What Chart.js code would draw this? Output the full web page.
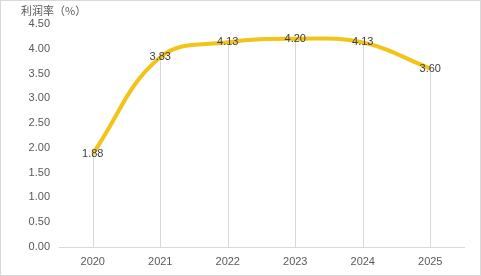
<!DOCTYPE html>
<html><head><meta charset="utf-8">
<script src="https://cdn.jsdelivr.net/npm/chart.js@4"></script>
<style>html,body{margin:0;padding:0;background:#fff;}#wrap{width:481px;height:276px;position:relative;}</style>
</head><body><div id="wrap"><canvas id="c" width="481" height="276"></canvas></div>
<script>
const categories = ['2020','2021','2022','2023','2024','2025'];
const profitRate = [1.88, 3.83, 4.13, 4.20, 4.13, 3.60];
const yTitle = '利润率（%）';

const frame = {
  id: 'frame',
  beforeDraw(chart) {
    const ctx = chart.ctx;
    ctx.save();
    ctx.fillStyle = '#fff';
    ctx.fillRect(0, 0, chart.width, chart.height);
    ctx.restore();
  },
  afterDraw(chart) {
    const ctx = chart.ctx;
    ctx.save();
    ctx.strokeStyle = '#d9d9d9';
    ctx.lineWidth = 1;
    ctx.strokeRect(0.5, 0.5, chart.width - 1, chart.height - 1);
    ctx.fillStyle = '#595959';
    ctx.font = '11px "Noto Sans CJK SC", "Liberation Sans", sans-serif';
    ctx.textBaseline = 'middle';
    ctx.textAlign = 'left';
    ctx.fillText(yTitle, 21, 11);
    ctx.restore();
  }
};

const dropLines = {
  id: 'dropLines',
  beforeDatasetsDraw(chart) {
    const ctx = chart.ctx;
    const meta = chart.getDatasetMeta(0);
    const bottom = chart.scales.y.getPixelForValue(0);
    ctx.save();
    ctx.strokeStyle = '#d9d9d9';
    ctx.lineWidth = 1;
    meta.data.forEach(p => {
      const x = Math.round(p.x) + 0.5;
      ctx.beginPath();
      ctx.moveTo(x, p.y);
      ctx.lineTo(x, bottom);
      ctx.stroke();
    });
    ctx.restore();
  },
  afterDatasetsDraw(chart) {
    const ctx = chart.ctx;
    const meta = chart.getDatasetMeta(0);
    ctx.save();
    ctx.fillStyle = '#404040';
    ctx.font = '11px "Liberation Sans", Arial, sans-serif';
    ctx.textAlign = 'center';
    ctx.textBaseline = 'middle';
    meta.data.forEach((p, i) => {
      ctx.fillText(profitRate[i].toFixed(2), p.x, p.y);
    });
    ctx.restore();
  }
};

new Chart(document.getElementById('c'), {
  type: 'line',
  data: {
    labels: categories,
    datasets: [{
      data: profitRate,
      borderColor: '#F2C318',
      borderWidth: 4,
      pointRadius: 0,
      tension: 0.4,
      fill: false
    }]
  },
  options: {
    responsive: false,
    animation: false,
    devicePixelRatio: 1,
    layout: { padding: { top: 24, right: 17, bottom: 0, left: 0 } },
    plugins: { legend: { display: false }, tooltip: { enabled: false } },
    scales: {
      x: {
        offset: true,
        grid: { display: false, drawTicks: false },
        border: { display: true, color: '#d9d9d9', width: 1 },
        ticks: { color: '#595959', padding: 8, font: { size: 11, family: '"Liberation Sans", Arial, sans-serif' } },
        afterFit(s) { s.height = 29; }
      },
      y: {
        min: 0, max: 4.5,
        ticks: { stepSize: 0.5, color: '#595959', padding: 9,
          font: { size: 11, family: '"Liberation Sans", Arial, sans-serif' },
          callback: v => Number(v).toFixed(2) },
        grid: { display: false, drawTicks: false },
        border: { display: false },
        afterFit(s) { s.width = 59; }
      }
    }
  },
  plugins: [frame, dropLines]
});
</script></body></html>
